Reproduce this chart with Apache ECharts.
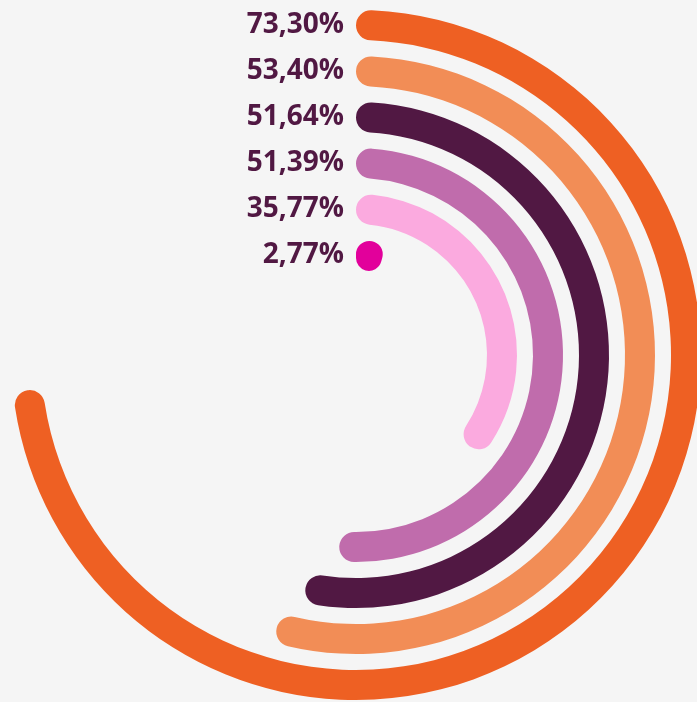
<!DOCTYPE html>
<html>
<head>
<meta charset="utf-8">
<script src="https://cdn.jsdelivr.net/npm/echarts@6/dist/echarts.min.js"></script>
<style>
html, body { margin: 0; padding: 0; background: #f5f5f5; }
#main { width: 697px; height: 702px; }
</style>
</head>
<body>
<div id="main"></div>
<script>
// inner ring first, outer ring last
var labels = ['2,77%', '35,77%', '51,39%', '51,64%', '53,40%', '73,30%'];
// arc lengths as drawn in the picture (% of a full turn)
var values = [4.2, 35.77, 51.39, 53.4, 54.5, 73.30];
var colors = ['#e2009b', '#fbaadf', '#c06cac', '#511843', '#f28d56', '#ee6023'];

var chart = echarts.init(document.getElementById('main'));
chart.setOption({
    backgroundColor: '#f5f5f5',
    polar: {
        center: [356, 355],
        radius: [77, 353]
    },
    angleAxis: {
        type: 'value',
        min: 0,
        max: 100,
        startAngle: 90,
        clockwise: true,
        show: false
    },
    radiusAxis: {
        type: 'category',
        data: labels,
        axisLine: { show: false },
        axisTick: { show: false },
        splitLine: { show: false },
        axisLabel: {
            show: true,
            interval: 0,
            hideOverlap: false,
            margin: 12,
            color: '#511843',
            fontFamily: 'Open Sans',
            fontWeight: 'bold',
            fontSize: 28
        }
    },
    series: [{
        type: 'bar',
        coordinateSystem: 'polar',
        barWidth: 30,
        data: values.map(function (v, i) {
            return { value: v, itemStyle: { color: colors[i], borderRadius: 15 } };
        })
    }]
});
</script>
</body>
</html>
